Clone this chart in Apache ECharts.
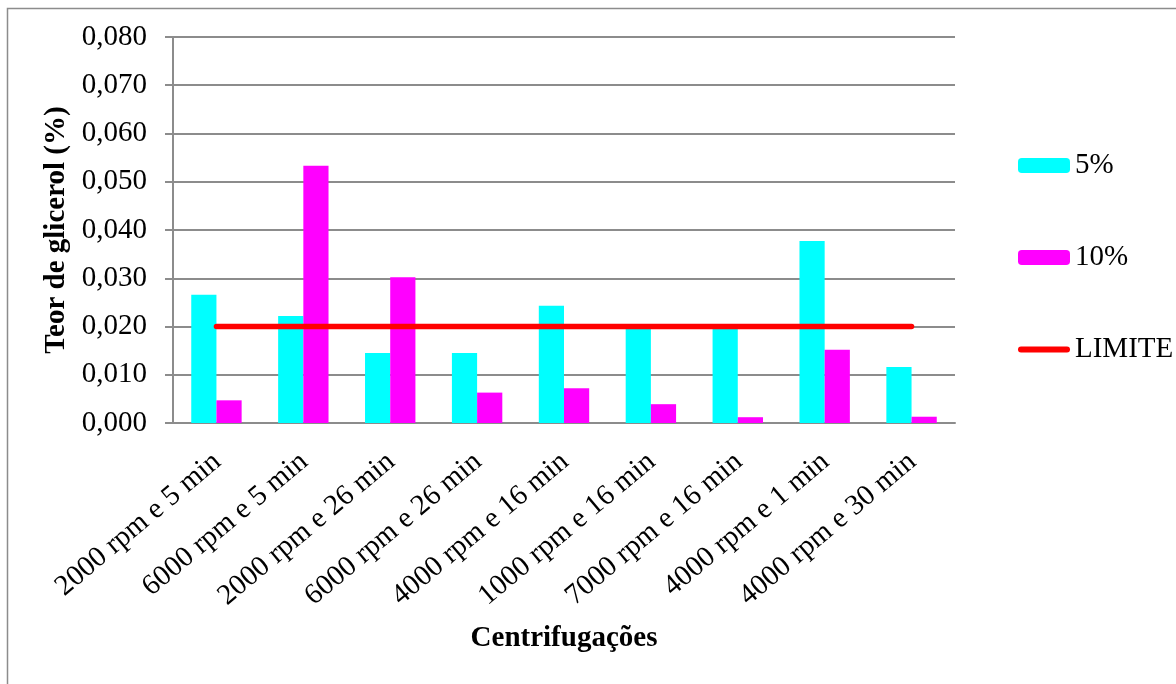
<!DOCTYPE html>
<html>
<head>
<meta charset="utf-8">
<script src="https://cdn.jsdelivr.net/npm/echarts@6/dist/echarts.min.js"></script>
<style>
  html, body { margin: 0; padding: 0; background: #fff; }
  #chart { width: 1176px; height: 684px; }
</style>
</head>
<body>
<div id="chart"></div>
<script>
// Centrifugation conditions on the x axis
const categories = [
  '2000 rpm e 5 min', '6000 rpm e 5 min', '2000 rpm e 26 min',
  '6000 rpm e 26 min', '4000 rpm e 16 min', '1000 rpm e 16 min',
  '7000 rpm e 16 min', '4000 rpm e 1 min', '4000 rpm e 30 min'
];
// Glycerol content (%) per condition
const teor5 = [0.0266, 0.0222, 0.0145, 0.0145, 0.0243, 0.0199, 0.0198, 0.0377, 0.0116];
const teor10 = [0.0047, 0.0533, 0.0302, 0.0063, 0.0072, 0.0039, 0.0012, 0.0152, 0.0013];
// Reference limit
const limite = [0.020, 0.020, 0.020, 0.020, 0.020, 0.020, 0.020, 0.020, 0.020];
const yTicks = { min: 0, max: 0.08, step: 0.01 };

const FONT = "'Liberation Serif', 'Times New Roman', serif";
const GRAY = '#8c8c8c';
// Rounded short bar used as the legend key of the limit line
const LINE_ICON = 'path://M3,0 L49,0 A3,3 0 0 1 49,6 L3,6 A3,3 0 0 1 3,0 Z';

const chart = echarts.init(document.getElementById('chart'), null, { renderer: 'canvas' });
chart.setOption({
  animation: false,
  backgroundColor: '#fff',
  textStyle: { fontFamily: FONT, color: '#000' },
  graphic: [{
    type: 'rect',
    shape: { x: 7.5, y: 8.5, width: 2000, height: 2000 },
    style: { fill: 'none', stroke: GRAY, lineWidth: 1.5 },
    silent: true
  }],
  grid: { left: 173, right: 221, top: 37, bottom: 261, containLabel: false },
  legend: {
    orient: 'vertical',
    left: 1018,
    top: 151,
    padding: 0,
    itemWidth: 52,
    itemHeight: 15,
    itemGap: 63,
    textStyle: { fontFamily: FONT, fontSize: 29, color: '#000' },
    data: ['5%', '10%', { name: 'LIMITE', icon: LINE_ICON }]
  },
  xAxis: {
    type: 'category',
    data: categories,
    boundaryGap: true,
    axisLine: { lineStyle: { color: GRAY, width: 2 } },
    axisTick: { show: false },
    axisLabel: {
      rotate: 40,
      interval: 0,
      margin: 17,
      padding: [0, 11, 0, 0],
      verticalAlign: 'top',
      fontFamily: FONT,
      fontSize: 29,
      color: '#000'
    },
    name: 'Centrifugações',
    nameLocation: 'middle',
    nameGap: 201,
    nameTextStyle: { fontFamily: FONT, fontSize: 29, fontWeight: 'bold', color: '#000' }
  },
  yAxis: {
    type: 'value',
    min: yTicks.min,
    max: yTicks.max,
    interval: yTicks.step,
    axisLine: { show: true, lineStyle: { color: GRAY, width: 2 } },
    axisTick: { show: true, length: 8, lineStyle: { color: GRAY, width: 2 } },
    splitLine: { show: true, lineStyle: { color: GRAY, width: 2 } },
    axisLabel: {
      margin: 26,
      fontFamily: FONT,
      fontSize: 29,
      color: '#000',
      formatter: v => v.toFixed(3).replace('.', ',')
    },
    name: 'Teor de glicerol (%)',
    nameLocation: 'middle',
    nameGap: 100,
    nameTextStyle: { fontFamily: FONT, fontSize: 29, fontWeight: 'bold', color: '#000' }
  },
  series: [
    {
      name: '5%',
      type: 'bar',
      data: teor5,
      barGap: '0%',
      barCategoryGap: '42%',
      itemStyle: { color: '#00ffff' }
    },
    {
      name: '10%',
      type: 'bar',
      data: teor10,
      itemStyle: { color: '#ff00ff' }
    },
    {
      name: 'LIMITE',
      type: 'line',
      data: limite,
      symbol: 'none',
      z: 5,
      lineStyle: { color: '#ff0000', width: 5.5, cap: 'round' },
      itemStyle: { color: '#ff0000' }
    }
  ]
});
</script>
</body>
</html>
